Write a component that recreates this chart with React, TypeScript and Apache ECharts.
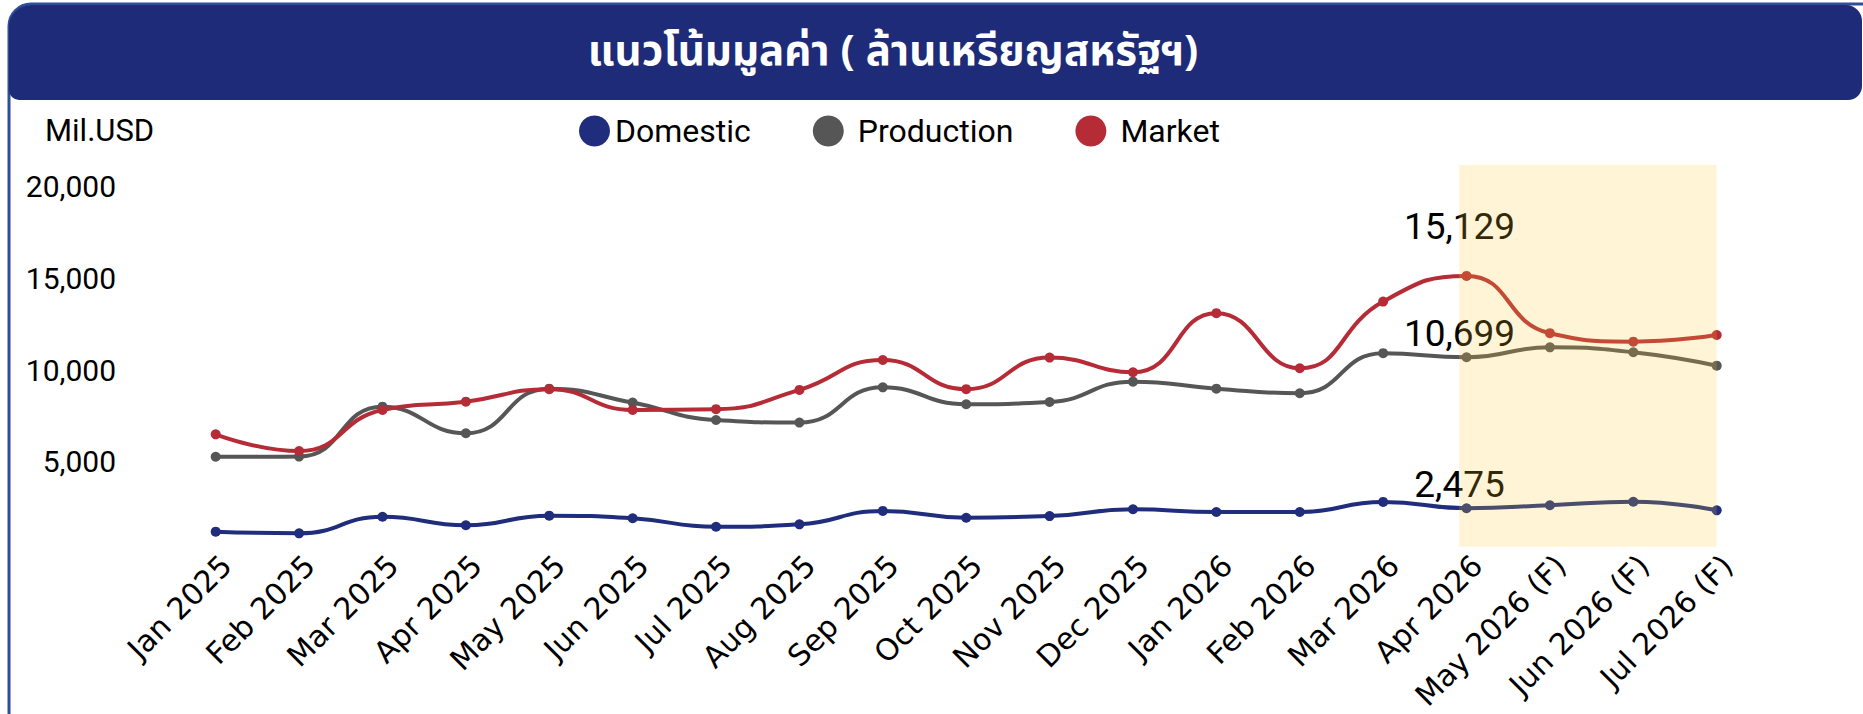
import React, { useEffect, useRef } from 'react';
import * as echarts from 'echarts';

const categories: string[] = [
  'Jan 2025', 'Feb 2025', 'Mar 2025', 'Apr 2025', 'May 2025', 'Jun 2025',
  'Jul 2025', 'Aug 2025', 'Sep 2025', 'Oct 2025', 'Nov 2025', 'Dec 2025',
  'Jan 2026', 'Feb 2026', 'Mar 2026', 'Apr 2026',
  'May 2026 (F)', 'Jun 2026 (F)', 'Jul 2026 (F)',
];

const domestic: number[] = [1200, 1110, 2010, 1550, 2070, 1930, 1470, 1600, 2330, 1960, 2050, 2420, 2270, 2270, 2820, 2475, 2640, 2830, 2360];
const production: number[] = [5280, 5290, 8010, 6560, 8990, 8230, 7280, 7140, 9060, 8140, 8260, 9370, 8990, 8740, 10920, 10699, 11240, 10970, 10240];
const market: number[] = [6500, 5590, 7830, 8280, 8960, 7830, 7870, 8920, 10550, 8960, 10680, 9880, 13100, 10100, 13730, 15129, 12010, 11550, 11910];

const yTicks: number[] = [0, 5000, 10000, 15000, 20000];
const labelledCategory = 'Apr 2026';
const forecastRange: string[] = ['Apr 2026', 'Jul 2026 (F)'];

const TITLE = 'แนวโน้มมูลค่า ( ล้านเหรียญสหรัฐฯ)';
const UNIT = 'Mil.USD';

const COLORS = { Domestic: '#1f2d7c', Production: '#565656', Market: '#b52b36' };

// plot extends a little above the last tick (the forecast band reaches up there)
const PLOT_TOP_VALUE = 21170;
const BAND_BOTTOM_VALUE = 380;

const fmt = (v: number) => Number(v).toLocaleString('en-US');

export default function App() {
  const ref = useRef<HTMLDivElement>(null);

  useEffect(() => {
    if (!ref.current) return;
    const chart = echarts.init(ref.current, undefined, { renderer: 'svg' });
    const labelIdx = categories.indexOf(labelledCategory);

    const mkData = (arr: number[], distance: number) =>
      arr.map((v, i) =>
        i === labelIdx
          ? {
              value: v,
              label: {
                show: true,
                position: 'top',
                distance,
                offset: [-7, 0],
                fontFamily: 'Roboto',
                fontSize: 37,
                color: '#000',
                formatter: (p: any) => fmt(p.value),
              },
            }
          : v
      );

    const mkSeries = (name: 'Domestic' | 'Production' | 'Market', arr: number[], distance: number) => ({
      name,
      type: 'line',
      data: mkData(arr, distance),
      smooth: 0.5,
      symbol: 'circle',
      symbolSize: 10,
      showSymbol: true,
      lineStyle: { width: 4, color: COLORS[name] },
      itemStyle: { color: COLORS[name] },
      z: 2,
    });

    const hlStart = categories.indexOf(forecastRange[0]) - 0.09;
    const hlEnd = categories.indexOf(forecastRange[1]);

    const option: any = {
      animation: false,
      backgroundColor: '#fff',
      textStyle: { fontFamily: 'Roboto' },
      graphic: [
        {
          type: 'rect',
          silent: true,
          z: 0,
          shape: { x: 9, y: 4, width: 1920, height: 730, r: 22 },
          style: { fill: 'none', stroke: '#2f4e99', lineWidth: 3 },
        },
        {
          type: 'rect',
          silent: true,
          z: 1,
          shape: { x: 9, y: 5, width: 1853, height: 95, r: [22, 16, 14, 10] },
          style: { fill: '#1d2b79' },
        },
        {
          type: 'text',
          silent: true,
          z: 2,
          x: 893,
          y: 52,
          style: {
            text: TITLE,
            fill: '#ffffff',
            fontSize: 42,
            fontWeight: 'bold',
            fontFamily: "'Noto Sans Thai', 'Noto Sans', 'DejaVu Sans', sans-serif",
            align: 'center',
            verticalAlign: 'middle',
          },
        },
        {
          type: 'text',
          silent: true,
          z: 2,
          x: 45,
          y: 130,
          style: {
            text: UNIT,
            fill: '#000',
            fontSize: 31,
            fontFamily: 'Roboto',
            align: 'left',
            verticalAlign: 'middle',
          },
        },
      ],
      legend: {
        left: 574,
        top: 110,
        icon: 'circle',
        itemWidth: 31,
        itemHeight: 31,
        itemGap: 62,
        textStyle: { fontFamily: 'Roboto', fontSize: 32, color: '#000' },
        data: [
          { name: 'Domestic' },
          { name: 'Production', textStyle: { padding: [0, 0, 0, 9] } },
          { name: 'Market', textStyle: { padding: [0, 0, 0, 9] } },
        ],
      },
      grid: {
        left: 174,
        right: 104.6,
        top: 165,
        bottom: 160.3,
        containLabel: false,
        outerBoundsMode: 'none',
      },
      xAxis: [
        {
          type: 'category',
          data: categories,
          boundaryGap: true,
          axisLine: { show: false },
          axisTick: { show: false },
          splitLine: { show: false },
          axisLabel: {
            interval: 0,
            rotate: 45,
            margin: -4,
            align: 'right',
            verticalAlign: 'top',
            fontFamily: 'DejaVu Sans',
            fontSize: 30,
            color: '#000',
          },
        },
        {
          type: 'value',
          show: false,
          min: -0.5,
          max: categories.length - 0.5,
          splitLine: { show: false },
        },
      ],
      yAxis: {
        type: 'value',
        min: yTicks[0],
        max: PLOT_TOP_VALUE,
        interval: yTicks[1] - yTicks[0],
        axisLine: { show: false },
        axisTick: { show: false },
        splitLine: { show: false },
        axisLabel: {
          showMinLabel: false,
          showMaxLabel: false,
          margin: 58,
          fontFamily: 'Roboto',
          fontSize: 30,
          color: '#000',
          formatter: (v: number) => (yTicks.includes(v) ? fmt(v) : ''),
        },
      },
      series: [
        mkSeries('Domestic', domestic, 0),
        mkSeries('Production', production, 0),
        mkSeries('Market', market, 26),
        {
          name: 'forecast-highlight',
          type: 'line',
          xAxisIndex: 1,
          yAxisIndex: 0,
          data: [],
          silent: true,
          markArea: {
            silent: true,
            z: 10,
            itemStyle: { color: 'rgba(255, 204, 51, 0.2)' },
            data: [[{ xAxis: hlStart, yAxis: PLOT_TOP_VALUE }, { xAxis: hlEnd, yAxis: BAND_BOTTOM_VALUE }]],
          },
        },
      ],
    };

    chart.setOption(option);
    return () => chart.dispose();
  }, []);

  return (
    <div
      ref={ref}
      style={{ position: 'absolute', left: 0, top: 0, width: 1863, height: 714, background: '#fff' }}
    />
  );
}
